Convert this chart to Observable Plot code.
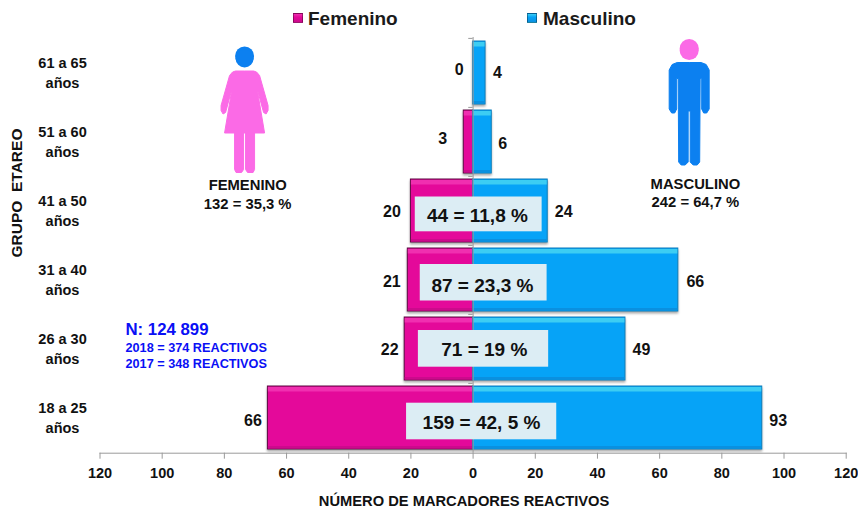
<!DOCTYPE html>
<html lang="es">
<head>
<meta charset="utf-8">
<script src="https://cdn.jsdelivr.net/npm/d3@7"></script>
<script src="https://cdn.jsdelivr.net/npm/@observablehq/plot@0.6"></script>
<style>
  html, body { margin: 0; background: #fff; }
  body { font-family: "Liberation Sans", Arial, sans-serif; width: 858px; height: 512px; overflow: hidden; }
  #legend { position: relative; height: 37px; font-weight: bold; font-size: 19px; color: #1a1a1a; }
  #legend span { position: absolute; top: 7px; line-height: 24px; }
  #legend i { position: absolute; top: 13px; width: 10px; height: 10px; border: 1px solid rgba(0,0,0,.35); box-sizing: border-box; }
</style>
</head>
<body>
<div id="legend"></div>
<div id="chart"></div>
<script>
const groups = ["18 a 25", "26 a 30", "31 a 40", "41 a 50", "51 a 60", "61 a 65"];
const femenino = [66, 22, 21, 20, 3, 0];
const masculino = [93, 49, 66, 24, 6, 4];
const axisTicks = [-120, -100, -80, -60, -40, -20, 0, 20, 40, 60, 80, 100, 120];
const totalsGroups = ["41 a 50", "31 a 40", "26 a 30", "18 a 25"];
const totalsText = ["44 = 11,8 %", "87 = 23,3 %", "71 = 19 %", "159 = 42, 5 %"];

const colors = {
  f: "#E4099A", fTop: "#F02FB0", fBottom: "#CC0A8C", fEdge: "#5C0A42",
  m: "#06A3F7", mTop: "#3CCDF3", mBottom: "#0A90E0", mEdge: "#0D7FBC",
  box: "#DCEDF4", icoPink: "#FB6AE6", icoBlue: "#0C80F0", ink: "#111"
};

// legend
const legend = document.getElementById("legend");
legend.innerHTML =
  `<i style="left:293px;background:linear-gradient(${colors.fTop},${colors.f} 40%,${colors.fBottom})"></i><span style="left:308px">Femenino</span>` +
  `<i style="left:527px;background:linear-gradient(${colors.mTop},${colors.m} 40%,${colors.mBottom})"></i><span style="left:543px">Masculino</span>`;

const rows = groups.flatMap((g, i) => [
  {group: g, side: "f", value: -femenino[i], label: femenino[i]},
  {group: g, side: "m", value: masculino[i], label: masculino[i]}
]);
const tone = (a, b) => d => d.side === "f" ? a : b;

// value-label nudges (px), per [group, side]
const nudges = {
  "61 a 65f": [-14, -3], "61 a 65m": [12, 0],
  "51 a 60f": [-21, -3], "51 a 60m": [11, 2],
  "41 a 50f": [-19, 1], "41 a 50m": [16, 1],
  "31 a 40f": [-16, 2], "31 a 40m": [17, 2],
  "26 a 30f": [-15, 1], "26 a 30m": [16, 1],
  "18 a 25f": [-15, 3], "18 a 25m": [16, 3]
};
const valueLabels = rows.map(d => {
  const [dx, dy] = nudges[d.group + d.side];
  return Plot.text([d], {x: "value", y: "group", text: "label", dx, dy,
    fontSize: 16, fontWeight: "bold", fill: colors.ink});
});

// centred totals: [x1, x2, insetTop, insetBottom, textX, dy]
const boxLayout = [
  [-18.6, 22.2, 17.5, 10.7, 1.4, 5],
  [-17, 23.8, 16, 10.5, 3, 6],
  [-17.6, 24.3, 13, 13.3, 3.6, 1],
  [-21.4, 26.9, 16.7, 9.7, 2.7, 5]
];
const totals = totalsGroups.flatMap((g, i) => {
  const [x1, x2, insetTop, insetBottom, tx, dy] = boxLayout[i];
  return [
    Plot.barX([g], {x1: () => x1, x2: () => x2, y: d => d, insetTop, insetBottom, fill: colors.box}),
    Plot.text([g], {x: () => tx, y: d => d, dy, text: () => totalsText[i],
      fontSize: 19, fontWeight: "bold", fill: colors.ink, style: "word-spacing:3px"})
  ];
});

// pictograms as custom dot symbols (local px, origin at top centre of the body)
const mirrored = pts => ({
  draw(ctx) {
    const all = [...pts, ...pts.slice().reverse().map(([x, y]) => [-x, y])];
    all.forEach(([x, y], i) => i ? ctx.lineTo(x, y) : ctx.moveTo(x, y));
    ctx.closePath();
  }
});
const womanBody = mirrored([
  [0, 0.5], [9, 0.5], [12, 1.5], [15, 5], [23.5, 35], [23.5, 40], [21.5, 43.5], [19, 42], [12.5, 18],
  [20, 62.5], [10, 62.5], [10, 99], [8.5, 102], [3, 102], [1, 99], [1, 62.5]
]);
const manBody = mirrored([
  [0, 0.5], [12, 0.5], [17, 2.5], [20, 8], [20, 47], [17.5, 51], [14.5, 51], [12.5, 47], [12.5, 16.5], [11, 16.5],
  [10.5, 100], [8, 103], [4, 103], [1, 100], [1, 49]
]);
const icon = (symbol, x, row, dy, fill) => Plot.dot([row], {
  x: () => x, y: d => d, dy, r: 1, symbol, fill, stroke: fill, strokeWidth: 1, strokeLinejoin: "round"
});
const head = (x, row, dy, r, fill) => Plot.dot([row], {
  x: () => x, y: d => d, dy, r, fill
});
const note = (text, x, row, dy, fontSize, fill, textAnchor = "middle") => Plot.text([row], {
  x: () => x, y: d => d, dy, text: () => text, fontSize, fontWeight: "bold", fill, textAnchor
});

const chart = Plot.plot({
  width: 858,
  height: 475,
  marginTop: 0,
  marginBottom: 59.3,
  marginLeft: 99.5,
  marginRight: 12.3,
  style: {fontFamily: '"Liberation Sans", Arial, sans-serif', background: "transparent", overflow: "visible"},
  x: {domain: [-120, 120]},
  y: {domain: groups.slice().reverse(), paddingInner: 0.09, paddingOuter: 0.045, label: null},
  marks: [
    // bars with bevels
    Plot.barX(rows, {x1: 0, x2: "value", y: "group", fill: tone(colors.f, colors.m),
      stroke: tone(colors.fEdge, colors.mEdge), strokeWidth: 1,
      imageFilter: "drop-shadow(0px 2px 1px #aaa)"}),
    Plot.barX(rows.filter(d => d.value), {x1: 0, x2: "value", y: "group", fill: tone(colors.fTop, colors.mTop),
      insetTop: 1, insetBottom: 57.5, insetLeft: 0.5, insetRight: 0.5}),
    Plot.barX(rows.filter(d => d.value), {x1: 0, x2: "value", y: "group", fill: tone(colors.fBottom, colors.mBottom),
      insetTop: 60, insetBottom: 0.5, insetLeft: 0.5, insetRight: 0.5}),
    // zero axis and its ticks
    Plot.ruleX([0], {stroke: "#9a9a9a", strokeWidth: 1}),
    Plot.ruleY(groups, {y: d => d, dy: -34.6, x1: 0, x2: -1.4, stroke: "#9a9a9a"}),
    ...totals,
    ...valueLabels,
    // axes
    Plot.frame({anchor: "bottom", stroke: "#9a9a9a"}),
    Plot.axisX({ticks: axisTicks, tickFormat: Math.abs, tickSize: 6, tickPadding: 9, stroke: "#9a9a9a",
      fill: colors.ink, fontSize: 14.5, fontWeight: "bold", label: null}),
    Plot.axisY({tickSize: 0, tickPadding: 37.5, textAnchor: "middle", lineWidth: 100, label: null, dy: -1.5,
      tickFormat: d => d + "\naños", fill: colors.ink, fontSize: 14.5, fontWeight: "bold", lineHeight: 1.35}),
    Plot.text(["NÚMERO DE MARCADORES REACTIVOS"], {x: () => -2.9, frameAnchor: "bottom", dy: 52.5,
      text: d => d, fontSize: 14.7, fontWeight: "bold", fill: colors.ink}),
    Plot.text(["GRUPO  ETAREO"], {frameAnchor: "left", textAnchor: "middle", dx: -83, y: () => "41 a 50", dy: -18, rotate: -90,
      text: d => d, fontSize: 15.5, fontWeight: "bold", fill: colors.ink}),
    // pictograms
    icon(womanBody, -73.5, "51 a 60", -71.5, colors.icoPink),
    head(-73.5, "61 a 65", -17, 9.5, colors.icoBlue),
    head(-73.5, "61 a 65", -14.5, 9, colors.icoBlue),
    icon(manBody, 69.5, "61 a 65", -11, colors.icoBlue),
    head(69.5, "61 a 65", -24.5, 9.5, colors.icoPink),
    head(69.5, "61 a 65", -22.5, 9.5, colors.icoPink),
    note("FEMENINO", -72.5, "41 a 50", -26, 14.8, colors.ink),
    note("132 = 35,3 %", -72.5, "41 a 50", -7, 14.8, colors.ink),
    note("MASCULINO", 71.5, "41 a 50", -27, 14.8, colors.ink),
    note("242 = 64,7 %", 71.5, "41 a 50", -9, 14.8, colors.ink),
    // sample note
    note("N: 124 899", -111.8, "26 a 30", -19.5, 16.8, "#0A10F5", "start"),
    note("2018 = 374 REACTIVOS", -111.8, "26 a 30", -1, 12.7, "#0A10F5", "start"),
    note("2017 = 348 REACTIVOS", -111.8, "26 a 30", 15, 12.7, "#0A10F5", "start")
  ]
});
document.getElementById("chart").appendChild(chart);
</script>
</body>
</html>
